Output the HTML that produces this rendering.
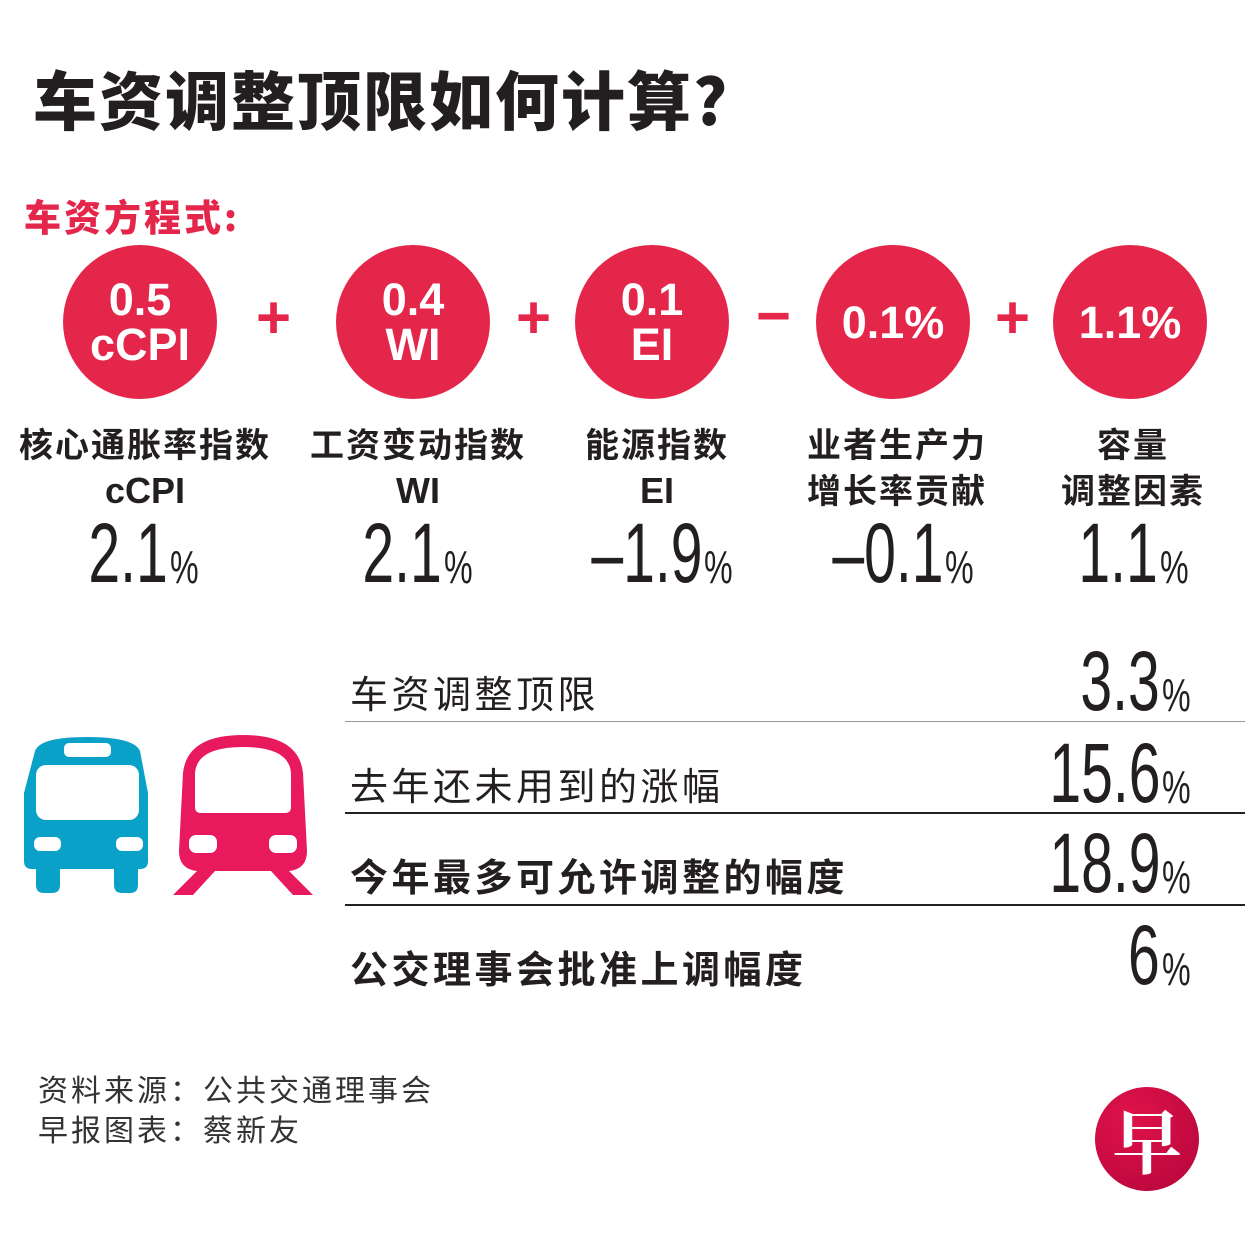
<!DOCTYPE html>
<html><head><meta charset="utf-8">
<style>
body{margin:0;width:1251px;height:1242px;background:#fff;position:relative;overflow:hidden;font-family:"Liberation Sans","Noto Sans CJK SC",sans-serif;color:#231f20}
.a{position:absolute;white-space:nowrap}
.c{position:absolute;width:154px;height:154px;border-radius:50%;background:#e5264b;color:#fff;font-weight:bold;text-align:center;display:flex;flex-direction:column;justify-content:center;align-items:center;font-size:45px;line-height:45px}
.op{position:absolute;color:#e5264b;font-size:60px;font-weight:bold;line-height:60px}
.lbl{position:absolute;width:300px;text-align:center;font-weight:bold;font-size:34px;line-height:46px;font-family:"Noto Sans CJK SC",sans-serif;letter-spacing:2px}
.lbl b{font-family:"Liberation Sans",sans-serif;font-size:36px;letter-spacing:0}
.v{position:absolute;width:0;height:84px}
.v .num{position:absolute;right:0;top:0;font-size:84px;line-height:84px;transform:scaleX(.68);transform-origin:right center;white-space:nowrap}
.v .pc{position:absolute;left:2px;top:26px;font-size:46px;line-height:60px;transform:scaleX(.7);transform-origin:left center}
.row{position:absolute;left:350px;font-size:38px;font-family:"Noto Sans CJK SC",sans-serif;line-height:40px;letter-spacing:3.5px;white-space:nowrap}
.ln{position:absolute;left:345px;width:900px}
</style></head><body>
<div class="a" style="left:33px;top:58px;font-size:64px;font-weight:900;font-family:'Noto Sans CJK SC',sans-serif;line-height:80px;letter-spacing:2px">车资调整顶限如何计算?</div>
<div class="a" style="left:24px;top:190px;font-size:37px;font-weight:900;color:#e5264b;font-family:'Noto Sans CJK SC',sans-serif;line-height:50px;letter-spacing:3px">车资方程式:</div>

<div class="c" style="left:63px;top:245px"><span>0.5</span><span>cCPI</span></div>
<div class="op" style="left:256px;top:288px">+</div>
<div class="c" style="left:336px;top:245px"><span>0.4</span><span>WI</span></div>
<div class="op" style="left:516px;top:288px">+</div>
<div class="c" style="left:575px;top:245px"><span>0.1</span><span>EI</span></div>
<div class="op" style="left:756px;top:286px">−</div>
<div class="c" style="left:816px;top:245px"><span>0.1%</span></div>
<div class="op" style="left:995px;top:288px">+</div>
<div class="c" style="left:1053px;top:245px"><span>1.1%</span></div>

<div class="lbl" style="left:-5px;top:420px">核心通胀率指数<br><b>cCPI</b></div>
<div class="lbl" style="left:268px;top:420px">工资变动指数<br><b>WI</b></div>
<div class="lbl" style="left:507px;top:420px">能源指数<br><b>EI</b></div>
<div class="lbl" style="left:747px;top:420px">业者生产力<br>增长率贡献</div>
<div class="lbl" style="left:983px;top:420px">容量<br>调整因素</div>

<div class="v" style="left:168px;top:511px"><span class="num">2.1</span><span class="pc">%</span></div>
<div class="v" style="left:442px;top:511px"><span class="num">2.1</span><span class="pc">%</span></div>
<div class="v" style="left:702px;top:511px"><span class="num">–1.9</span><span class="pc">%</span></div>
<div class="v" style="left:943px;top:511px"><span class="num">–0.1</span><span class="pc">%</span></div>
<div class="v" style="left:1158px;top:511px"><span class="num">1.1</span><span class="pc">%</span></div>

<svg class="a" style="left:20px;top:733px" width="135" height="162" viewBox="0 0 135 162">
<path d="M15 18 Q20 4 67 4 Q114 4 120 18 L128 60 L128 128 Q128 136 120 136 L118 136 L118 152 Q118 160 110 160 L102 160 Q94 160 94 152 L94 136 L40 136 L40 152 Q40 160 32 160 L24 160 Q16 160 16 152 L16 136 L12 136 Q4 136 4 128 L4 60 Z" fill="#0aa1c8"/>
<rect x="44" y="10" width="47" height="14" rx="5" fill="#fff"/>
<rect x="16" y="32" width="103" height="55" rx="10" fill="#fff"/>
<rect x="14" y="104" width="27" height="14" rx="6" fill="#fff"/>
<rect x="96" y="104" width="27" height="14" rx="6" fill="#fff"/>
</svg>
<svg class="a" style="left:173px;top:733px" width="140" height="162" viewBox="0 0 140 162">
<path d="M10 40 Q14 2 70 2 Q126 2 130 40 L134 118 Q134 136 116 138 L140 162 L120 162 L98 138 L42 138 L20 162 L0 162 L24 138 Q6 136 6 118 Z" fill="#e8195c"/>
<path d="M22 40 Q24 14 70 14 Q116 14 118 40 L118 74 Q118 80 112 80 L28 80 Q22 80 22 74 Z" fill="#fff"/>
<rect x="16" y="102" width="28" height="18" rx="7" fill="#fff"/>
<rect x="96" y="102" width="28" height="18" rx="7" fill="#fff"/>
</svg>

<div class="row" style="top:672px">车资调整顶限</div>
<div class="v" style="left:1160px;top:639px"><span class="num">3.3</span><span class="pc">%</span></div>
<div class="ln" style="top:721px;border-top:1px solid #999"></div>
<div class="row" style="top:764px">去年还未用到的涨幅</div>
<div class="v" style="left:1160px;top:731px"><span class="num">15.6</span><span class="pc">%</span></div>
<div class="ln" style="top:812px;border-top:2px solid #222"></div>
<div class="row" style="top:855px;font-weight:bold">今年最多可允许调整的幅度</div>
<div class="v" style="left:1160px;top:821px"><span class="num">18.9</span><span class="pc">%</span></div>
<div class="ln" style="top:904px;border-top:2px solid #222"></div>
<div class="row" style="top:947px;font-weight:bold">公交理事会批准上调幅度</div>
<div class="v" style="left:1160px;top:913px"><span class="num">6</span><span class="pc">%</span></div>

<div class="a" style="left:38px;top:1068px;font-size:30px;line-height:40px;font-family:'Noto Sans CJK SC',sans-serif;color:#333;letter-spacing:3px">资料来源：公共交通理事会<br>早报图表：蔡新友</div>
<div class="a" style="left:1095px;top:1087px;width:104px;height:104px;border-radius:50%;background:radial-gradient(circle at 35% 30%,#e0134a,#b3053a);color:#fff;font-size:70px;font-weight:bold;text-align:center;line-height:104px;font-family:'Noto Serif CJK SC',serif">早</div>
</body></html>
